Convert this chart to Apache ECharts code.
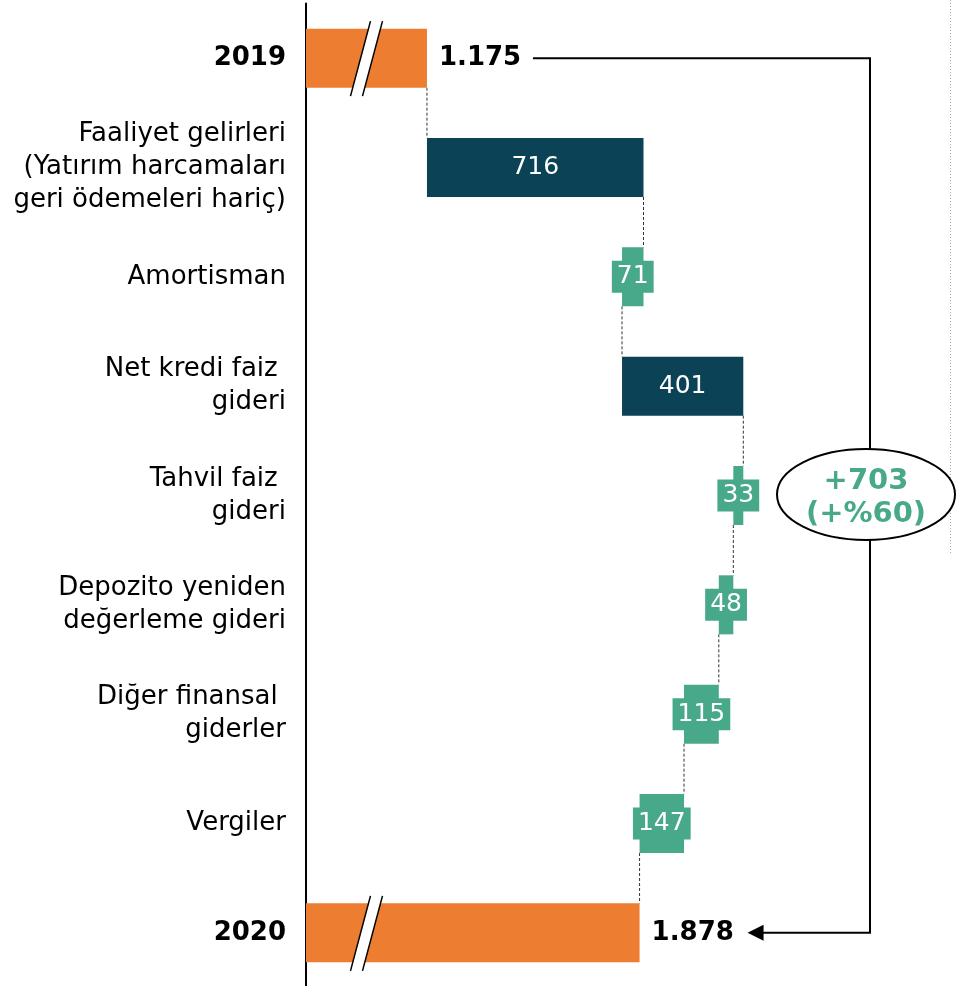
<!DOCTYPE html>
<html>
<head>
<meta charset="utf-8">
<script src="https://cdn.jsdelivr.net/npm/echarts@6/dist/echarts.min.js"></script>
<style>
html, body { margin: 0; padding: 0; background: #fff; }
#chart { width: 956px; height: 986px; }
</style>
</head>
<body>
<div id="chart"></div>
<script>
var categories = [
	'2019',
	'Faaliyet gelirleri\n(Yatırım harcamaları\ngeri ödemeleri hariç)',
	'Amortisman',
	'Net kredi faiz \ngideri',
	'Tahvil faiz \ngideri',
	'Depozito yeniden\ndeğerleme gideri',
	'Diğer finansal \ngiderler',
	'Vergiler',
	'2020'
];
var startValue = 1175;
var endValue = 1878;
var changes = [716, -71, 401, -33, -48, -115, -147];

var ORANGE = '#ed7d31';
var DARK = '#0b4256';
var GREEN = '#48a88a';
var FONT = 'DejaVu Sans';

function fmt(v) {
	return String(v).replace(/\B(?=(\d{3})+(?!\d))/g, '.');
}

// waterfall helpers
var base = [0], totals = [startValue], ups = ['-'], downs = ['-'], levels = [startValue];
var running = startValue;
for (var i = 0; i < changes.length; i++) {
	var c = changes[i];
	if (c > 0) {
		base.push(running); ups.push(c); downs.push('-');
	} else {
		base.push(running + c); downs.push(-c); ups.push('-');
	}
	totals.push('-');
	running += c;
	levels.push(running);
}
base.push(0); totals.push(endValue); ups.push('-'); downs.push('-');

var yData = categories.map(function (name, idx) {
	if (idx === 0 || idx === categories.length - 1) {
		return { value: name, textStyle: { fontWeight: 'bold' } };
	}
	return name;
});

var chart = echarts.init(document.getElementById('chart'));
chart.setOption({
	animation: false,
	grid: { left: 306, top: 3.5, width: 600, height: 984, outerBoundsMode: 'none' },
	xAxis: {
		type: 'value', min: 775, max: 2759, show: false,
		splitLine: { show: false }
	},
	yAxis: {
		type: 'category', inverse: true, data: yData,
		axisTick: { show: false },
		axisLine: { show: true, lineStyle: { color: '#000', width: 2 } },
		axisLabel: {
			fontSize: 26, color: '#000', fontFamily: FONT, lineHeight: 33, margin: 20,
			padding: [7, 0, 0, 0]
		}
	},
	series: [
		{
			type: 'bar', stack: 'w', clip: true, silent: true, barCategoryGap: '46%',
			itemStyle: { color: 'transparent' }, data: base
		},
		{
			type: 'bar', stack: 'w', clip: true, barCategoryGap: '46%',
			itemStyle: { color: ORANGE },
			label: {
				show: true, position: 'right', distance: 12,
				color: '#000', fontWeight: 'bold', fontSize: 26, fontFamily: FONT,
				padding: [6, 0, 0, 0],
				formatter: function (p) { return fmt(p.value); }
			},
			data: totals
		},
		{
			type: 'bar', stack: 'w', clip: true, barCategoryGap: '46%',
			itemStyle: { color: DARK },
			label: { show: true, position: 'inside', color: '#fff', fontSize: 25, fontFamily: FONT },
			data: ups
		},
		{
			type: 'bar', stack: 'w', clip: true, barCategoryGap: '46%',
			itemStyle: { color: GREEN },
			label: {
				show: true, position: 'inside', color: '#fff', fontSize: 25, fontFamily: FONT,
				backgroundColor: GREEN, padding: [4, 5, 2, 5], lineHeight: 26
			},
			data: downs
		}
	]
});

function px(v, idx) {
	return chart.convertToPixel({ gridIndex: 0 }, [v, idx]);
}

var band = px(0, 1)[1] - px(0, 0)[1];
var half = band * 0.54 / 2;
var graphics = [];

// dashed connectors
for (var k = 0; k < levels.length; k++) {
	var a = px(levels[k], k), b = px(levels[k], k + 1);
	graphics.push({
		type: 'line', z: 1, silent: true,
		shape: { x1: a[0], y1: a[1] + half, x2: b[0], y2: b[1] - half },
		style: { stroke: '#333', lineWidth: 1, lineDash: [3, 2] }
	});
}

// axis break marks on the total bars
var breakValue = 975;
[0, categories.length - 1].forEach(function (idx) {
	var p = px(breakValue, idx);
	var cx = p[0], cy = p[1];
	graphics.push({
		type: 'polygon', z: 10, silent: true,
		shape: { points: [[cx + 4, cy - 37], [cx + 16, cy - 37], [cx - 4, cy + 38], [cx - 16, cy + 38]] },
		style: { fill: '#fff' }
	});
	graphics.push({
		type: 'line', z: 11, silent: true,
		shape: { x1: cx + 4, y1: cy - 37, x2: cx - 16, y2: cy + 38 },
		style: { stroke: '#000', lineWidth: 1.5 }
	});
	graphics.push({
		type: 'line', z: 11, silent: true,
		shape: { x1: cx + 16, y1: cy - 37, x2: cx - 4, y2: cy + 38 },
		style: { stroke: '#000', lineWidth: 1.5 }
	});
});

// bracket from 2019 to 2020 with arrow
var p0 = px(startValue, 0), p1 = px(endValue, categories.length - 1);
var bracketX = 870;
var tipX = p1[0] + 108;
graphics.push({
	type: 'polyline', z: 5, silent: true,
	shape: { points: [[p0[0] + 106, p0[1]], [bracketX, p0[1]], [bracketX, p1[1]], [tipX + 12, p1[1]]] },
	style: { stroke: '#000', lineWidth: 2, fill: null }
});
graphics.push({
	type: 'polygon', z: 5, silent: true,
	shape: { points: [[tipX, p1[1]], [tipX + 16, p1[1] - 8], [tipX + 16, p1[1] + 8]] },
	style: { fill: '#000' }
});

// change bubble
var diff = endValue - startValue;
var pct = Math.round(diff / startValue * 100);
var pe = px(startValue, 4);
graphics.push({
	type: 'ellipse', z: 6, silent: true,
	shape: { cx: 866, cy: pe[1] - 1, rx: 89, ry: 45.5 },
	style: { fill: '#fff', stroke: '#000', lineWidth: 2 }
});
graphics.push({
	type: 'text', z: 7, silent: true,
	x: 866, y: pe[1] + 2,
	style: {
		text: '+' + diff + '\n(+%' + pct + ')',
		fill: GREEN, font: 'bold 29px "DejaVu Sans"',
		align: 'center', verticalAlign: 'middle', lineHeight: 33
	}
});

// dotted divider on the right
graphics.push({
	type: 'line', z: 1, silent: true,
	shape: { x1: 950.5, y1: 0, x2: 950.5, y2: 555 },
	style: { stroke: '#aaa', lineWidth: 1, lineDash: [1, 2] }
});

chart.setOption({ graphic: graphics });
</script>
</body>
</html>
